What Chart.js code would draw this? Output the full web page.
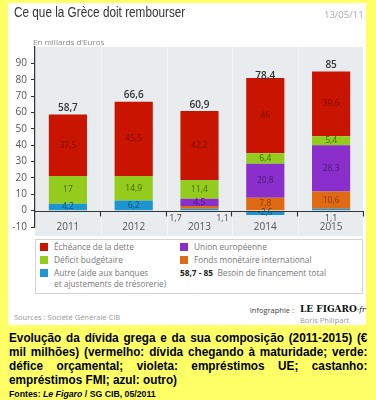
<!DOCTYPE html>
<html>
<head>
<meta charset="utf-8">
<script src="https://cdn.jsdelivr.net/npm/chart.js@4"></script>
<style>
  html, body { margin: 0; padding: 0; }
  body { width: 376px; height: 400px; background: #ffff66; position: relative; overflow: hidden; font-family: 'Open Sans', sans-serif; }
  #panel { position: absolute; left: 8px; top: 3px; width: 358px; height: 322px; background: #fff; }
  #chartBox { position: absolute; left: 0; top: 0; width: 376px; height: 240px; }
  .t { position: absolute; white-space: nowrap; }
  #title { left: 14px; top: 4px; font-size: 14px; color: #333; font-family: 'Liberation Sans', sans-serif; transform: scaleX(0.84); transform-origin: left top; }
  #date { left: 324px; top: 8px; font-size: 9.5px; color: #aaa; }
  #unit { left: 33px; top: 36px; font-size: 8px; color: #888; }
  #legend { position: absolute; left: 35px; top: 239px; width: 326px; height: 53px; border: 1px solid #d4d4d4; background: #fff; }
  .sq { position: absolute; width: 8px; height: 8px; }
  .lg { position: absolute; font-size: 8.3px; color: #777; white-space: nowrap; line-height: 11px; }
  #sources { left: 14px; top: 312px; font-size: 7.5px; color: #999; }
  #infog { right: 82px; top: 305px; font-size: 7.5px; color: #444; }
  #figaro { left: 300px; top: 304px; font-size: 9px; font-weight: bold; color: #111; font-family: 'DejaVu Serif', serif; }
  #boris { left: 300px; top: 315px; font-size: 7.5px; color: #999; }
  #caption { position: absolute; left: 9px; top: 331px; width: 396px; font-family: 'Liberation Sans', sans-serif; font-weight: bold; font-size: 13px; line-height: 14px; color: #000; text-align: justify; transform: scaleX(0.905); transform-origin: left top; }
  #fontes { position: absolute; left: 9px; top: 388px; font-family: 'Liberation Sans', sans-serif; font-weight: bold; font-size: 9.5px; color: #000; transform: scaleX(0.92); transform-origin: left top; }
</style>
</head>
<body>
<div id="panel"></div>
<div id="chartBox"><canvas id="chart" width="376" height="240"></canvas></div>
<div class="t" id="title">Ce que la Grèce doit rembourser</div>
<div class="t" id="date">13/05/11</div>
<div class="t" id="unit">En millards d'Euros</div>
<div id="legend"></div>
<div class="t" id="sources">Sources : Société Générale CIB</div>
<div class="t" id="infog">Infographie :</div>
<div class="t" id="figaro">LE FIGARO<span style="font-weight:normal;font-style:italic;font-size:7.5px">·fr</span></div>
<div class="t" id="boris">Boris Philipart</div>
<div id="caption">Evolução da dívida grega e da sua composição (2011-2015) (€ mil milhões) (vermelho: dívida chegando à maturidade; verde: défice orçamental; violeta: empréstimos UE; castanho: empréstimos FMI; azul: outro)</div>
<div id="fontes">Fontes: <i>Le Figaro</i> / SG CIB, 05/2011</div>

<script>
// Données (milliards d'euros)
const years = ['2011', '2012', '2013', '2014', '2015'];
const autre = [4.2, 6.2, 1.1, -2.6, 1.1];
const fmi = [0, 0, 1.7, 7.8, 10.6];
const ue = [0, 0, 4.5, 20.8, 28.3];
const deficit = [17, 14.9, 11.4, 6.4, 5.4];
const echeance = [37.5, 45.5, 42.2, 46, 39.6];
const totals = [58.7, 66.6, 60.9, 78.4, 85];
const yTicks = [-10, 0, 10, 20, 30, 40, 50, 60, 70, 80, 90];

// Couleurs
const colors = {
    autre: '#1f95d0',
    fmi: '#de6a14',
    ue: '#8a2fcb',
    deficit: '#93cc1c',
    echeance: '#c91500'
};
const labelColors = {
    autre: '#0b4f7c',
    fmi: '#9a3500',
    ue: '#4b1577',
    deficit: '#3f6a05',
    echeance: '#7c0c00'
};

const fmt = v => String(v).replace('.', ',');

// Légende en HTML
const legendItems = [
    { c: colors.echeance, t: 'Échéance de la dette', x: 40, y: 243 },
    { c: colors.deficit, t: 'Déficit budgétaire', x: 40, y: 256 },
    { c: colors.autre, t: 'Autre (aide aux banques<br>et ajustements de trésorerie)', x: 40, y: 269 },
    { c: colors.ue, t: 'Union européenne', x: 180, y: 243 },
    { c: colors.fmi, t: 'Fonds monétaire international', x: 180, y: 256 }
];
const legend = document.getElementById('legend');
legendItems.forEach(it => {
    const sq = document.createElement('div');
    sq.className = 'sq';
    sq.style.left = (it.x - 36) + 'px';
    sq.style.top = (it.y - 240) + 'px';
    sq.style.background = it.c;
    legend.appendChild(sq);
    const lb = document.createElement('div');
    lb.className = 'lg';
    lb.style.left = (it.x - 36 + 14) + 'px';
    lb.style.top = (it.y - 240 - 2) + 'px';
    lb.innerHTML = it.t;
    legend.appendChild(lb);
});
const tot = document.createElement('div');
tot.className = 'lg';
tot.style.left = '144px';
tot.style.top = '27px';
tot.innerHTML = '<b style="color:#222">58,7 - 85</b>&nbsp;&nbsp;Besoin de financement total';
legend.appendChild(tot);

// Plugin : fond, axe des x, étiquettes
const drawExtras = {
    id: 'drawExtras',
    beforeDraw(chart) {
        const ctx = chart.ctx;
        const ca = chart.chartArea;
        const n = years.length;
        const step = (ca.right - ca.left) / n;
        ctx.save();
        ctx.fillStyle = '#e9ecee';
        ctx.fillRect(ca.left, ca.top, ca.right - ca.left - 1, ca.bottom - ca.top + 9);
        ctx.strokeStyle = '#f3f5f6';
        ctx.lineWidth = 1;
        for (let i = 1; i < n; i++) {
            const x = Math.round(ca.left + step * i) + 0.5;
            ctx.beginPath();
            ctx.moveTo(x, ca.top);
            ctx.lineTo(x, ca.bottom + 9);
            ctx.stroke();
        }
        ctx.restore();
    },
    afterDatasetsDraw(chart) {
        const ctx = chart.ctx;
        const ca = chart.chartArea;
        const xs = chart.scales.x;
        const ys = chart.scales.y;
        const n = years.length;
        const step = (ca.right - ca.left) / n;
        const y0 = Math.round(ys.getPixelForValue(0)) + 0.5;

        ctx.save();
        // axe horizontal
        ctx.strokeStyle = '#333';
        ctx.lineWidth = 1.2;
        ctx.beginPath();
        ctx.moveTo(ca.left, y0);
        ctx.lineTo(ca.right, y0);
        ctx.stroke();
        for (let i = 1; i <= n; i++) {
            const x = Math.round(ca.left + step * i) - 0.5;
            ctx.beginPath();
            ctx.moveTo(x, y0);
            ctx.lineTo(x, y0 + 5);
            ctx.stroke();
        }

        // années
        ctx.fillStyle = '#555';
        ctx.font = "10px 'Open Sans', sans-serif";
        ctx.textAlign = 'center';
        ctx.textBaseline = 'middle';
        years.forEach((yr, i) => {
            ctx.fillText(yr, xs.getPixelForValue(i), ys.getPixelForValue(-10));
        });

        // étiquettes des segments
        const keys = ['autre', 'fmi', 'ue', 'deficit', 'echeance'];
        const small = years.map(() => []);
        chart.data.datasets.forEach((ds, di) => {
            const meta = chart.getDatasetMeta(di);
            meta.data.forEach((el, i) => {
                const v = ds.data[i];
                if (!v) return;
                if (Math.abs(v) < 2.5) {
                    small[i].push(v);
                    return;
                }
                ctx.fillStyle = labelColors[keys[di]];
                ctx.font = "8.5px 'Open Sans', sans-serif";
                ctx.fillText(fmt(v), el.x, (el.y + el.base) / 2);
            });
        });

        // petites valeurs sous l'axe
        ctx.fillStyle = '#444';
        ctx.font = "9px 'Open Sans', sans-serif";
        small.forEach((vals, i) => {
            const cx = xs.getPixelForValue(i);
            const list = vals.slice().reverse();
            if (list.length === 1) {
                ctx.fillText(fmt(list[0]), cx, y0 + 7);
            } else {
                list.forEach((v, k) => {
                    ctx.fillText(fmt(v), cx + (k === 0 ? -24 : 23), y0 + 7);
                });
            }
        });

        // totaux au-dessus des barres
        ctx.fillStyle = '#333';
        ctx.font = "600 10px 'Open Sans', sans-serif";
        ctx.textBaseline = 'bottom';
        totals.forEach((t, i) => {
            ctx.fillText(fmt(t), xs.getPixelForValue(i), ys.getPixelForValue(t) - 1);
        });
        ctx.restore();
    }
};

const ctx = document.getElementById('chart').getContext('2d');
new Chart(ctx, {
    type: 'bar',
    data: {
        labels: years,
        datasets: [
            { label: 'Autre', data: autre, backgroundColor: colors.autre },
            { label: 'FMI', data: fmi, backgroundColor: colors.fmi },
            { label: 'Union européenne', data: ue, backgroundColor: colors.ue },
            { label: 'Déficit budgétaire', data: deficit, backgroundColor: colors.deficit },
            { label: 'Échéance de la dette', data: echeance, backgroundColor: colors.echeance }
        ]
    },
    options: {
        responsive: false,
        animation: false,
        layout: { padding: { left: 0, right: 12, top: 47, bottom: 13 } },
        datasets: { bar: { categoryPercentage: 1, barPercentage: 0.58, borderWidth: 0 } },
        plugins: { legend: { display: false }, tooltip: { enabled: false } },
        scales: {
            x: { stacked: true, display: false },
            y: {
                stacked: true,
                min: -10,
                max: 100,
                afterBuildTicks: scale => { scale.ticks = yTicks.map(v => ({ value: v })); },
                afterFit: scale => { scale.width = 35; },
                ticks: { color: '#555', padding: 4, font: { size: 10, family: "'Open Sans', sans-serif" } },
                grid: { drawOnChartArea: false, drawTicks: true, tickLength: 4, color: '#333' },
                border: { display: true, color: '#333', width: 1.2 }
            }
        }
    },
    plugins: [drawExtras]
});
</script>
</body>
</html>
